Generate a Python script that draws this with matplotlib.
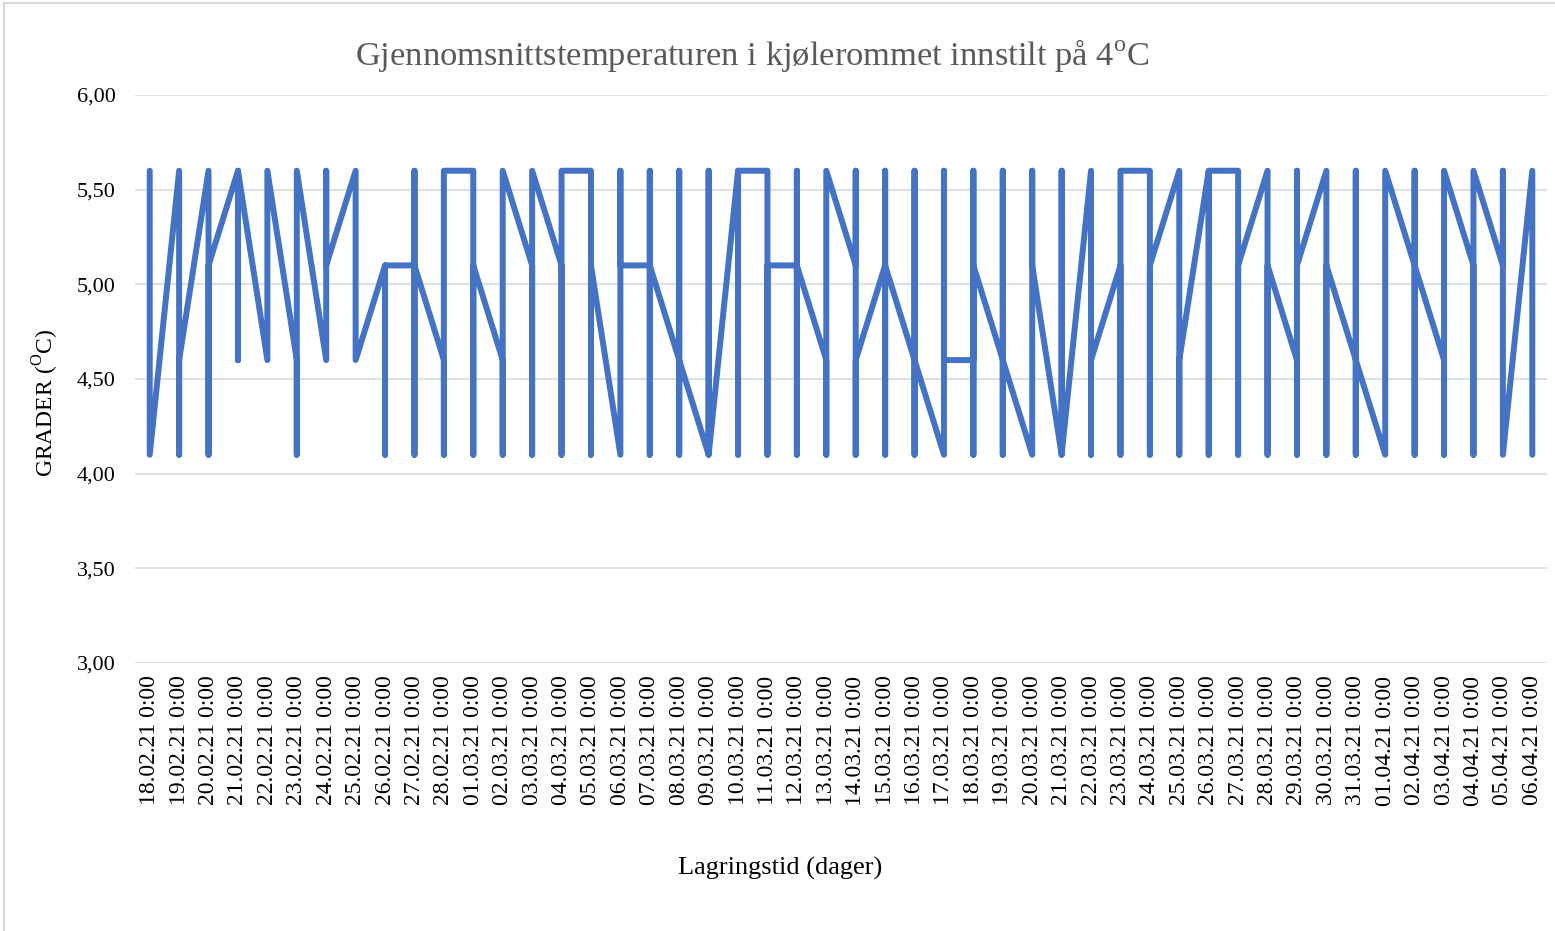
import matplotlib
matplotlib.use("Agg")
import matplotlib.pyplot as plt
from matplotlib.lines import Line2D

# ###########################################
# Data: readings per day (all logged at 0:00, so each day is a vertical run)
# ###########################################
dates = [
    "18.02.21", "19.02.21", "20.02.21", "21.02.21", "22.02.21", "23.02.21",
    "24.02.21", "25.02.21", "26.02.21", "27.02.21", "28.02.21", "01.03.21",
    "02.03.21", "03.03.21", "04.03.21", "05.03.21", "06.03.21", "07.03.21",
    "08.03.21", "09.03.21", "10.03.21", "11.03.21", "12.03.21", "13.03.21",
    "14.03.21", "15.03.21", "16.03.21", "17.03.21", "18.03.21", "19.03.21",
    "20.03.21", "21.03.21", "22.03.21", "23.03.21", "24.03.21", "25.03.21",
    "26.03.21", "27.03.21", "28.03.21", "29.03.21", "30.03.21", "31.03.21",
    "01.04.21", "02.04.21", "03.04.21", "04.04.21", "05.04.21", "06.04.21",
]

readings = [
    [5.6, 4.1], [5.6, 4.1, 4.6], [5.6, 4.1, 5.1], [5.6, 4.6, 5.6],
    [4.6, 5.6], [4.6, 4.1, 5.6], [4.6, 5.6, 5.1], [5.6, 4.6],
    [5.1, 4.1, 5.1], [5.1, 5.6, 4.1, 5.1], [4.6, 4.1, 5.6], [5.6, 4.1, 5.1],
    [4.6, 4.1, 5.6], [5.1, 4.1, 5.6], [5.1, 4.1, 5.6], [5.6, 4.1, 5.1],
    [4.1, 5.6, 5.1], [5.1, 5.6, 4.1, 5.1], [4.6, 5.6, 4.1, 4.6], [4.1, 5.6, 4.1],
    [5.6, 4.1, 5.6], [5.6, 4.1, 5.1], [5.1, 5.6, 4.1, 5.1], [4.6, 4.1, 5.6],
    [5.1, 5.6, 4.1, 4.6], [5.1, 5.6, 4.1, 5.1], [4.6, 5.6, 4.1, 4.6], [4.1, 5.6, 4.6],
    [4.6, 5.6, 4.1, 5.1], [4.6, 5.6, 4.1, 4.6], [4.1, 5.6, 5.1], [4.1, 5.6, 4.1],
    [5.6, 4.1, 4.6], [5.1, 4.1, 5.6], [5.6, 4.1, 5.1], [5.6, 4.1, 4.6],
    [5.6, 4.1, 5.6], [5.6, 4.1, 5.1], [5.6, 4.1, 5.1], [4.6, 4.1, 5.6, 5.1],
    [5.6, 4.1, 5.1], [4.6, 5.6, 4.1, 4.6], [4.1, 5.6], [5.1, 5.6, 4.1, 5.1],
    [4.6, 4.1, 5.6], [5.1, 4.1, 5.6], [5.1, 5.6, 4.1], [5.6, 4.1],
]

y_ticks = [3.0, 3.5, 4.0, 4.5, 5.0, 5.5, 6.0]

# flatten to one series, every reading of a day shares the same x
xs = []
ys = []
for i, day in enumerate(readings):
    for v in day:
        xs.append(i)
        ys.append(v)

# ###########################################
# Plot
# ###########################################
plt.rcParams['font.family'] = ['Liberation Serif', 'DejaVu Serif']
plt.rcParams['mathtext.fontset'] = 'custom'
plt.rcParams['mathtext.rm'] = 'Liberation Serif'

fig = plt.figure(figsize=(15.55, 9.31), dpi=100)
ax = fig.add_axes([135 / 1555, 268 / 931, 1412 / 1555, 568 / 931])

ax.plot(xs, ys, color='#4472C4', linewidth=4.3,
        solid_capstyle='round', solid_joinstyle='round', zorder=3)

ax.set_xlim(-0.5, len(dates) - 0.5)
ax.set_ylim(3.0, 6.0)
ax.set_yticks(y_ticks)
ax.set_yticklabels([f"{t:.2f}".replace('.', ',') for t in y_ticks], fontsize=16)
ax.set_xticks(range(len(dates)))
ax.set_xticklabels([d + " 0:00" for d in dates], rotation=90, fontsize=17)

ax.grid(axis='y', color='#D9D9D9', linewidth=1.2)
ax.set_axisbelow(True)
for s in ax.spines.values():
    s.set_visible(False)
ax.tick_params(axis='y', length=0, pad=14)
ax.tick_params(axis='x', length=0, pad=9)

fig.text(752 / 1555, 1 - 55 / 931, r"Gjennomsnittstemperaturen i kjølerommet innstilt på 4$^{\mathrm{o}}$C",
         ha='center', va='center', fontsize=24.8, color='#595959')
fig.text(46 / 1555, 1 - 403 / 931, r"GRADER ($^{\mathrm{O}}$C)", rotation=90,
         ha='center', va='center', fontsize=17)
fig.text(780 / 1555, 1 - 868 / 931, "Lagringstid (dager)",
         ha='center', va='center', fontsize=19)

# chart area border (only top and left visible in the crop)
fig.add_artist(Line2D([4 / 1555, 1], [1 - 3 / 931, 1 - 3 / 931], color='#D9D9D9', linewidth=1.5))
fig.add_artist(Line2D([4 / 1555, 4 / 1555], [0, 1 - 3 / 931], color='#D9D9D9', linewidth=1.5))

plt.savefig('out.png', dpi=100)
